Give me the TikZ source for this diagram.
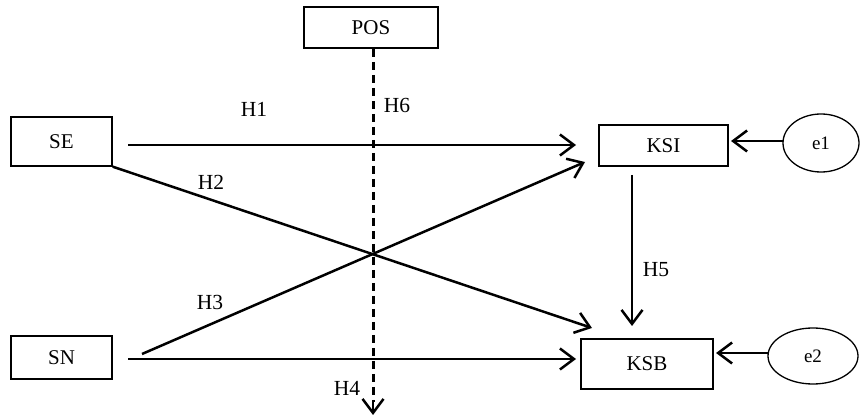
\documentclass[tikz,border=0pt]{standalone}
\usepackage{fontspec}
\setmainfont{Liberation Serif}
\usetikzlibrary{arrows.meta,shapes.geometric}
\begin{document}
\begin{tikzpicture}[x=1pt,y=-1pt,
  box/.style={draw,line width=1.3pt,inner sep=0pt,font=\fontsize{21}{24}\selectfont},
  err/.style={draw,ellipse,line width=1.3pt,inner sep=0pt,font=\fontsize{19}{22}\selectfont},
  lbl/.style={font=\fontsize{21.5}{24}\selectfont,inner sep=0pt},
  path/.style={line width=2.5pt,-{Straight Barb[length=14pt,width=21pt,line width=2.5pt]}},
  line/.style={line width=2.5pt}]
\useasboundingbox (0,0) rectangle (860,419);
\node[box,minimum width=134pt,minimum height=41pt] (pos) at (371,27.5) {POS};
\node[box,minimum width=101pt,minimum height=49pt] (se) at (61.5,141.5) {SE};
\node[box,minimum width=101pt,minimum height=43pt] (sn) at (61.5,357.5) {SN};
\node[box,minimum width=129pt,minimum height=41pt] (ksi) at (663.5,145.5) {KSI};
\node[box,minimum width=132pt,minimum height=50pt] (ksb) at (647,364) {KSB};
\node[err,minimum width=76pt,minimum height=58pt] (e1) at (821,143) {e1};
\node[err,minimum width=90pt,minimum height=56pt] (e2) at (813,356) {e2};
\coordinate (se1) at (128,145);
\coordinate (sn1) at (128,359);
\coordinate (sn2) at (142,354);
\coordinate (pos0) at (373,49);
\coordinate (posend) at (373,415);
\coordinate (ksi1) at (576,145);
\coordinate (ksi2) at (585,162);
\coordinate (ksb1) at (592,328);
\coordinate (ksb2) at (576,359);
\coordinate (ksb3) at (632,326);
\coordinate (ksi3) at (632,175);
\coordinate (ksi4) at (731,141);
\coordinate (e1w) at (783,141);
\coordinate (ksb4) at (716,353);
\coordinate (e2w) at (768,353);
\draw[path] (se1) -- (ksi1);
\draw[path] (se.south east) -- (ksb1);
\draw[path] (sn2) -- (ksi2);
\draw[path] (sn1) -- (ksb2);
\draw[path] (ksi3) -- (ksb3);
\draw[path] (e1w) -- (ksi4);
\draw[path] (e2w) -- (ksb4);
\draw[line,line width=3pt,dash pattern=on 8pt off 5pt] (pos0) -- (373,402);
\draw[path] (373,400) -- (posend);
\node[lbl] (h1) at (254,109.5) {H1};
\node[lbl] (h6) at (397,105) {H6};
\node[lbl] (h2) at (211,182.5) {H2};
\node[lbl] (h3) at (210,302) {H3};
\node[lbl] (h4) at (347,388) {H4};
\node[lbl] (h5) at (656,270) {H5};
\end{tikzpicture}
\end{document}
